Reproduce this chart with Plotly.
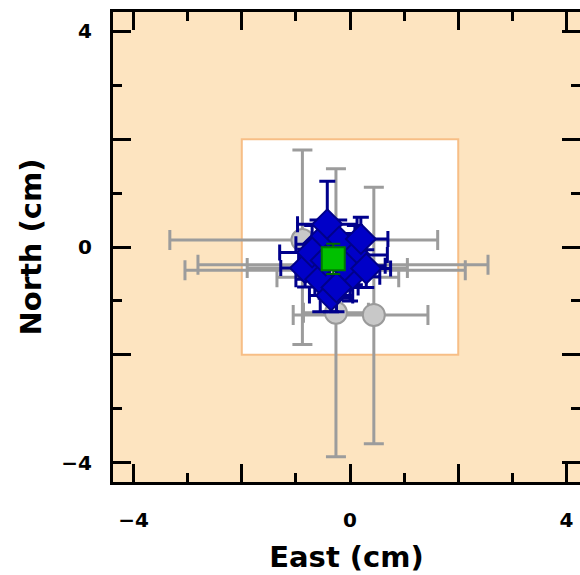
import plotly.graph_objects as go

# Grey points (circles): x, y, x error minus/plus, y error minus/plus
grey_x = [-0.88, 0.44, -0.26, -0.13, -0.46, -0.42, -0.25]
grey_y = [0.13, -1.26, -1.22, -0.33, -0.43, -0.39, -0.56]
grey_ex_minus = [2.45, 1.49, 0.60, 2.68, 2.59, 1.48, 1.10]
grey_ex_plus = [2.50, 1.00, 0.60, 2.68, 2.59, 1.48, 1.15]
grey_ey_minus = [1.94, 2.39, 2.67, 0.30, 0.30, 0.30, 0.30]
grey_ey_plus = [1.67, 2.37, 2.67, 0.30, 0.30, 0.30, 0.30]

# Blue points (diamonds)
blue_x = [-0.42, -0.83, 0.09, -0.55, -0.20, -0.60, 0.00, -0.35, -0.70, 0.20,
          -0.10, -0.45, 0.30, -0.25]
blue_y = [0.42, -0.39, -0.15, -0.60, 0.10, 0.05, -0.55, -0.90, -0.10, 0.15,
          -0.35, -0.25, -0.40, -0.75]
blue_ex = [0.55, 0.45, 0.60, 0.45, 0.50, 0.40, 0.55, 0.40, 0.60, 0.50,
           0.75, 0.50, 0.45, 0.40]
blue_ey = [0.80, 0.35, 0.55, 0.60, 0.40, 0.45, 0.45, 0.30, 0.50, 0.40,
           0.60, 0.70, 0.35, 0.45]

# Green mean point
green_x = [-0.31]
green_y = [-0.22]
green_ex = [0.15]
green_ey = [0.28]

major_vals = [-4, -2, 0, 2, 4]
major_text = ["<b>\u22124</b>", "", "<b>0</b>", "", "<b>4</b>"]

FONT = "DejaVu Sans"

fig = go.Figure()

fig.add_trace(go.Scatter(
    x=grey_x, y=grey_y, mode="markers",
    marker=dict(symbol="circle", size=22, color="#C8C8C8",
                line=dict(color="#9A9A9A", width=2)),
    error_x=dict(type="data", symmetric=False, array=grey_ex_plus,
                 arrayminus=grey_ex_minus, color="#9C9C9C", thickness=3, width=10),
    error_y=dict(type="data", symmetric=False, array=grey_ey_plus,
                 arrayminus=grey_ey_minus, color="#9C9C9C", thickness=3, width=10),
    showlegend=False))

fig.add_trace(go.Scatter(
    x=blue_x, y=blue_y, mode="markers",
    marker=dict(symbol="diamond", size=23, color="#0000C8",
                line=dict(color="#00008A", width=2)),
    error_x=dict(type="data", array=blue_ex, color="#00008C", thickness=3, width=8),
    error_y=dict(type="data", array=blue_ey, color="#00008C", thickness=3, width=8),
    showlegend=False))

fig.add_trace(go.Scatter(
    x=green_x, y=green_y, mode="markers",
    marker=dict(symbol="square", size=23, color="#00C000",
                line=dict(color="#007A00", width=2)),
    error_x=dict(type="data", array=green_ex, color="#006A00", thickness=2, width=7),
    error_y=dict(type="data", array=green_ey, color="#006A00", thickness=2, width=7),
    showlegend=False))

fig.add_shape(type="rect", x0=-2, x1=2, y0=-2, y1=2, layer="below",
              fillcolor="white", line=dict(color="#F7BE86", width=2))

axis_common = dict(
    tickvals=major_vals, ticktext=major_text, ticks="inside", ticklen=18,
    tickwidth=3, tickcolor="black", showline=True, linecolor="black",
    linewidth=3, mirror="ticks", showgrid=False, zeroline=False,
    automargin=False,
    tickfont=dict(family=FONT, size=20, color="black"),
    minor=dict(dtick=1, ticks="inside", ticklen=9, tickwidth=3,
               tickcolor="black", showgrid=False),
)

fig.update_layout(
    width=580, height=575,
    margin=dict(l=113, r=0, t=12, b=93),
    paper_bgcolor="white", plot_bgcolor="#FDE4C0",
    xaxis=dict(range=[-4.38, 4.25], **axis_common, ticklabelstandoff=18,
               title=dict(text="<b>East (cm)</b>", standoff=16,
                          font=dict(family=FONT, size=29, color="black"))),
    yaxis=dict(range=[-4.36, 4.36], **axis_common, ticklabelstandoff=14,
               title=dict(text="<b>North (cm)</b>", standoff=12,
                          font=dict(family=FONT, size=29, color="black"))),
)

fig.write_html("out.html", config={"displayModeBar": False},
               post_script="document.body.style.margin='0';document.body.style.overflow='hidden';")
